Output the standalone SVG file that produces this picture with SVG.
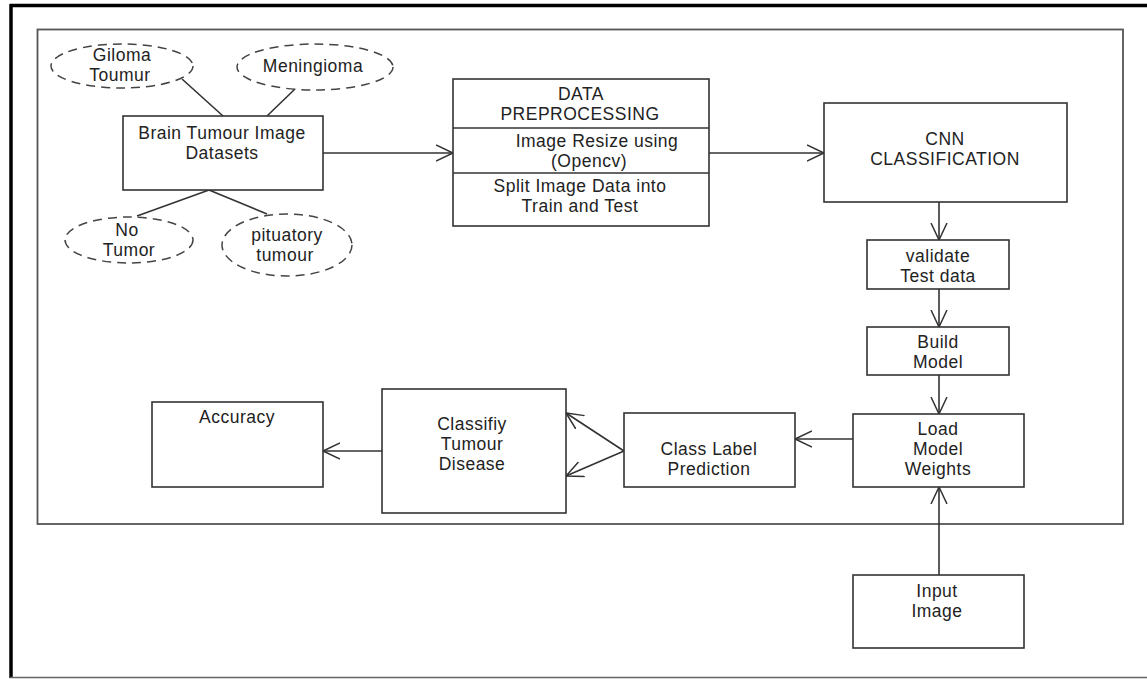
<svg xmlns="http://www.w3.org/2000/svg" width="1147" height="679" viewBox="0 0 1147 679">
<style>
.box{fill:#fff;stroke:#333;stroke-width:1.6}
.ell{fill:#fff;stroke:#444;stroke-width:1.5;stroke-dasharray:9 6}
.ln{fill:none;stroke:#333;stroke-width:1.6}
.t{font-family:"Liberation Sans",Arial,sans-serif;font-size:17.5px;letter-spacing:0.5px;fill:#222;text-anchor:middle}
</style>
<defs>
<marker id="ah" markerUnits="userSpaceOnUse" markerWidth="20" markerHeight="20" refX="17" refY="8" orient="auto" viewBox="0 0 20 16">
<path d="M0,0 L17,8 L0,16" fill="none" stroke="#333" stroke-width="1.5"/>
</marker>
</defs>
<rect x="0" y="0" width="1147" height="679" fill="#fff"/>
<g id="frame">
<line x1="10" y1="5.5" x2="1147" y2="5.5" stroke="#000" stroke-width="3.5"/>
<line x1="11" y1="4" x2="11" y2="678" stroke="#000" stroke-width="3.5"/>
<line x1="10" y1="677.5" x2="1147" y2="677.5" stroke="#666" stroke-width="1.5"/>
<rect x="37.5" y="29.5" width="1085.5" height="494.5" fill="none" stroke="#555" stroke-width="1.8"/>
</g>
<g id="connectors">
<line class="ln" x1="182" y1="79" x2="223" y2="116"/>
<line class="ln" x1="295" y1="89" x2="267" y2="116"/>
<line class="ln" x1="209" y1="190" x2="137" y2="216"/>
<line class="ln" x1="209" y1="190" x2="267" y2="214"/>
<line class="ln" x1="323" y1="153" x2="453" y2="153" marker-end="url(#ah)"/>
<line class="ln" x1="709" y1="153" x2="824" y2="153" marker-end="url(#ah)"/>
<line class="ln" x1="939" y1="202" x2="939" y2="240" marker-end="url(#ah)"/>
<line class="ln" x1="939" y1="289" x2="939" y2="327" marker-end="url(#ah)"/>
<line class="ln" x1="939" y1="375" x2="939" y2="414" marker-end="url(#ah)"/>
<line class="ln" x1="853" y1="439" x2="795" y2="439" marker-end="url(#ah)"/>
<line class="ln" x1="624" y1="451" x2="566" y2="413" marker-end="url(#ah)"/>
<line class="ln" x1="624" y1="451" x2="566" y2="476" marker-end="url(#ah)"/>
<line class="ln" x1="382" y1="451" x2="323" y2="451" marker-end="url(#ah)"/>
<line class="ln" x1="939" y1="575" x2="939" y2="487" marker-end="url(#ah)"/>
</g>
<g id="giloma">
<ellipse class="ell" cx="122" cy="66" rx="71" ry="22"/>
<text class="t" x="122" y="61">Giloma</text>
<text class="t" x="120" y="81">Toumur</text>
</g>
<g id="meningioma">
<ellipse class="ell" cx="315" cy="67" rx="78" ry="23"/>
<text class="t" x="313" y="72">Meningioma</text>
</g>
<g id="notumor">
<ellipse class="ell" cx="129" cy="240" rx="64" ry="23"/>
<text class="t" x="127" y="236">No</text>
<text class="t" x="129" y="256">Tumor</text>
</g>
<g id="pituatory">
<ellipse class="ell" cx="287" cy="245" rx="65" ry="31"/>
<text class="t" x="287" y="241">pituatory</text>
<text class="t" x="285" y="261">tumour</text>
</g>
<g id="datasets">
<rect class="box" x="123" y="116" width="200" height="74"/>
<text class="t" x="222" y="139">Brain Tumour Image</text>
<text class="t" x="222" y="159">Datasets</text>
</g>
<g id="preprocessing">
<rect class="box" x="453" y="79" width="256" height="147"/>
<line class="ln" x1="453" y1="128" x2="709" y2="128" stroke="#555"/>
<line class="ln" x1="453" y1="173" x2="709" y2="173" stroke="#555"/>
<text class="t" x="581" y="100">DATA</text>
<text class="t" x="580" y="120">PREPROCESSING</text>
<text class="t" x="597" y="147">Image Resize using</text>
<text class="t" x="589" y="167">(Opencv)</text>
<text class="t" x="580" y="192">Split Image Data into</text>
<text class="t" x="580" y="212">Train and Test</text>
</g>
<g id="cnn">
<rect class="box" x="824" y="103" width="243" height="99"/>
<text class="t" x="945" y="145">CNN</text>
<text class="t" x="945" y="165">CLASSIFICATION</text>
</g>
<g id="validate">
<rect class="box" x="867" y="240" width="142" height="49"/>
<text class="t" x="938" y="262">validate</text>
<text class="t" x="938" y="282">Test data</text>
</g>
<g id="build">
<rect class="box" x="867" y="327" width="142" height="48"/>
<text class="t" x="938" y="348">Build</text>
<text class="t" x="938" y="368">Model</text>
</g>
<g id="load">
<rect class="box" x="853" y="414" width="171" height="73"/>
<text class="t" x="938" y="435">Load</text>
<text class="t" x="938" y="455">Model</text>
<text class="t" x="938" y="475">Weights</text>
</g>
<g id="classlabel">
<rect class="box" x="624" y="413" width="171" height="74"/>
<text class="t" x="709" y="455">Class Label</text>
<text class="t" x="709" y="475">Prediction</text>
</g>
<g id="classify">
<rect class="box" x="382" y="389" width="184" height="124"/>
<text class="t" x="472" y="430">Classifiy</text>
<text class="t" x="472" y="450">Tumour</text>
<text class="t" x="472" y="470">Disease</text>
</g>
<g id="accuracy">
<rect class="box" x="152" y="402" width="171" height="85"/>
<text class="t" x="237" y="423">Accuracy</text>
</g>
<g id="input">
<rect class="box" x="853" y="575" width="171" height="73"/>
<text class="t" x="937" y="597">Input</text>
<text class="t" x="937" y="617">Image</text>
</g>
</svg>
